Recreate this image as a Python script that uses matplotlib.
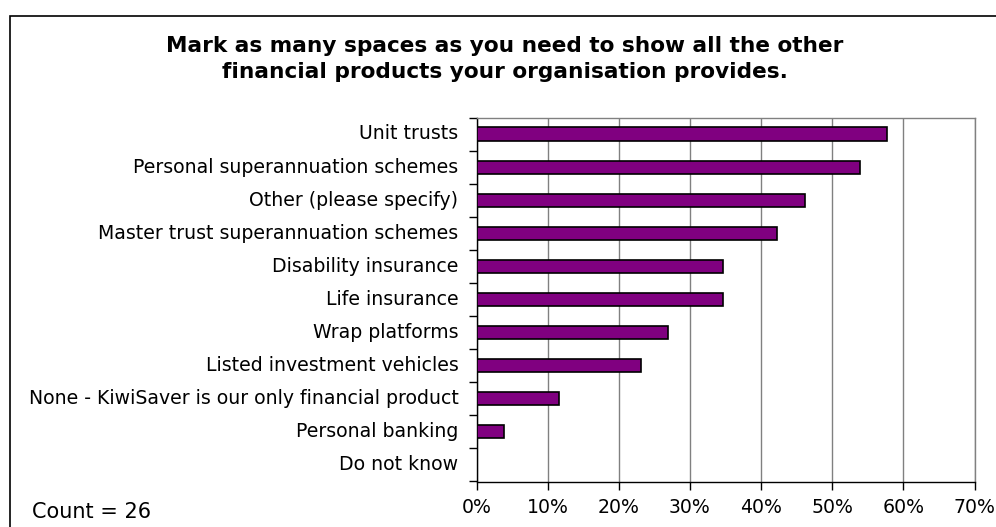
import matplotlib
matplotlib.use("Agg")
import matplotlib.pyplot as plt
import matplotlib.transforms as mtransforms
from matplotlib.patches import Rectangle
from matplotlib.ticker import MultipleLocator, PercentFormatter, FixedLocator

plt.rcParams['font.family'] = ['DejaVu Sans']

categories = [
    "Unit trusts",
    "Personal superannuation schemes",
    "Other (please specify)",
    "Master trust superannuation schemes",
    "Disability insurance",
    "Life insurance",
    "Wrap platforms",
    "Listed investment vehicles",
    "None - KiwiSaver is our only financial product",
    "Personal banking",
    "Do not know",
]
counts = [15, 14, 12, 11, 9, 9, 7, 6, 3, 1, 0]
total = 26
shares = [c / total * 100 for c in counts]

title = ("Mark as many spaces as you need to show all the other\n"
         "financial products your organisation provides.")

fig = plt.figure(figsize=(9.96, 5.27), dpi=100)
W, H = 996, 527

# outer chart border
fig.patches.append(Rectangle((10 / W, -0.1), 1.2, 1 - 16 / H + 0.1,
                             transform=fig.transFigure, fill=False,
                             edgecolor='black', linewidth=1.2))

ax = fig.add_axes([476.5 / W, 1 - 481.5 / H, (974.5 - 476.5) / W, (481.5 - 117.5) / H])

n = len(categories)
ypos = list(range(n))
ax.barh(ypos, shares, height=0.4, color='#800080', edgecolor='black',
        linewidth=1.2, zorder=3)

ax.set_ylim(n - 0.5, -0.5)
ax.set_xlim(0, 70)
ax.xaxis.set_major_locator(MultipleLocator(10))
ax.xaxis.set_major_formatter(PercentFormatter(decimals=0))
ax.grid(axis='x', color='#808080', linewidth=1.0, zorder=0)

ax.set_yticks(ypos)
ax.set_yticklabels(categories, fontsize=13.6)
ax.tick_params(axis='y', which='major', length=0, pad=13)
ax.yaxis.set_minor_locator(FixedLocator([i - 0.5 for i in range(n + 1)]))
ax.tick_params(axis='y', which='minor', length=6, width=1, color='black')
ax.tick_params(axis='x', length=6, width=1, labelsize=13.6, pad=6)

# nudge category labels slightly upward
lift = mtransforms.ScaledTranslation(0, 1.5 / 72, fig.dpi_scale_trans)
for lbl in ax.get_yticklabels():
    lbl.set_transform(lbl.get_transform() + lift)

for side in ['left', 'bottom']:
    ax.spines[side].set_color('black')
    ax.spines[side].set_linewidth(1.0)
for side in ['top', 'right']:
    ax.spines[side].set_color('#808080')
    ax.spines[side].set_linewidth(1.0)

fig.text(505 / W, 1 - 59 / H, title, ha='center', va='center',
         fontsize=15.6, fontweight='bold', linespacing=1.35)
fig.text(32 / W, 1 - 518 / H, f"Count = {total}", ha='left', va='baseline',
         fontsize=15)

fig.savefig("out.png", dpi=100)
